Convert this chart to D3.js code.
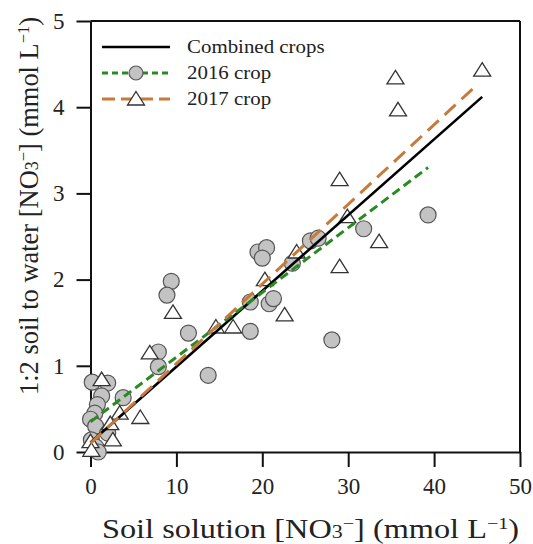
<!DOCTYPE html>
<html><head><meta charset="utf-8">
<script src="https://cdn.jsdelivr.net/npm/d3@7"></script>
<style>
body{margin:0;background:#fff;}
text{font-family:"Liberation Serif","DejaVu Serif",serif;fill:#222;}
</style></head>
<body><svg id="c" width="533" height="544"></svg>
<script>
// 2016 crop (circles): [soil solution, 1:2 soil-water]
const crop2016 = [
  [0.2,0.81],[2.0,0.80],[1.3,0.65],[3.8,0.63],[0.8,0.55],[0.5,0.45],[0.0,0.38],
  [0.6,0.30],[2.0,0.22],[0.1,0.14],[0.6,0.06],[0.9,0.0],
  [7.9,1.16],[7.9,0.99],[9.4,1.98],[8.9,1.82],[11.4,1.38],[13.7,0.89],
  [18.6,1.74],[18.6,1.40],[19.5,2.32],[20.5,2.37],[20.0,2.25],[20.8,1.72],
  [21.3,1.78],[23.5,2.19],[25.6,2.45],[26.5,2.48],[28.1,1.30],[31.8,2.59],[39.3,2.75]
];
// 2017 crop (triangles)
const crop2017 = [
  [1.3,0.84],[3.4,0.45],[5.8,0.40],[2.3,0.33],[0.0,0.12],[0.1,0.02],[2.6,0.14],
  [6.9,1.15],[9.6,1.62],[14.6,1.45],[16.6,1.45],[20.3,2.0],[22.6,1.59],[24.0,2.32],
  [29.0,3.16],[29.9,2.73],[29.0,2.15],[33.6,2.44],[35.5,4.34],[35.8,3.97],[45.6,4.43]
];
// regression lines: [x0,y0],[x1,y1]
const lineCombined = [[0,0.11],[45.6,4.12]];
const line2016 = [[0,0.35],[39.3,3.30]];
const line2017 = [[0,0.10],[45.0,4.26]];
const xTicks = [0,10,20,30,40,50];
const yTicks = [0,1,2,3,4,5];
const legendLabels = ["Combined crops","2016 crop","2017 crop"];

const svg = d3.select("#c");
const x = d3.scaleLinear().domain([0,50]).range([90.5,520]);
const y = d3.scaleLinear().domain([0,5]).range([452,21]);

// frame top & right
svg.append("line").attr("x1",x(0)).attr("x2",x(50)).attr("y1",y(5)).attr("y2",y(5)).attr("stroke","#111").attr("stroke-width",2);
svg.append("line").attr("x1",x(50)).attr("x2",x(50)).attr("y1",y(5)).attr("y2",y(0)).attr("stroke","#111").attr("stroke-width",2);

const gx = svg.append("g").attr("transform",`translate(0,${y(0)})`)
  .call(d3.axisBottom(x).tickValues(xTicks).tickSize(15).tickSizeOuter(0).tickPadding(11).tickFormat(d3.format("d")));
const gy = svg.append("g").attr("transform",`translate(${x(0)},0)`)
  .call(d3.axisLeft(y).tickValues(yTicks).tickSize(14).tickSizeOuter(0).tickPadding(12).tickFormat(d3.format("d")));
[gx,gy].forEach(g=>{
  g.selectAll("path,line").attr("stroke","#111").attr("stroke-width",2);
  g.selectAll("text").style("font-family",'"Liberation Serif",serif').style("font-size","23px").attr("fill","#222");
});

const triPath = "M0,-7.5L8.5,6L-8.5,6Z";

// markers
svg.append("g").selectAll("circle").data(crop2016).join("circle")
  .attr("cx",d=>x(d[0])).attr("cy",d=>y(d[1])).attr("r",8)
  .attr("fill","#c3c3c3").attr("stroke","#555").attr("stroke-width",1.2);
svg.append("g").selectAll("path").data(crop2017).join("path")
  .attr("d",triPath).attr("transform",d=>`translate(${x(d[0])},${y(d[1])})`)
  .attr("fill","#fff").attr("stroke","#333").attr("stroke-width",1.3);

// regression lines
const ln = d3.line().x(d=>x(d[0])).y(d=>y(d[1]));
svg.append("path").datum(lineCombined).attr("d",ln).attr("stroke","#000").attr("stroke-width",2.6).attr("fill","none");
svg.append("path").datum(line2016).attr("d",ln).attr("stroke","#2a8a22").attr("stroke-width",3).attr("stroke-dasharray","9,5").attr("fill","none");
svg.append("path").datum(line2017).attr("d",ln).attr("stroke","#c77a3a").attr("stroke-width",3).attr("stroke-dasharray","15,8").attr("fill","none");

// legend
const lg = svg.append("g");
const rows = [47,73,99];
lg.append("line").attr("x1",102).attr("x2",170).attr("y1",rows[0]).attr("y2",rows[0]).attr("stroke","#000").attr("stroke-width",2.6);
lg.append("line").attr("x1",102).attr("x2",170).attr("y1",rows[1]).attr("y2",rows[1]).attr("stroke","#2a8a22").attr("stroke-width",3).attr("stroke-dasharray","6,4");
lg.append("circle").attr("cx",136).attr("cy",rows[1]).attr("r",7).attr("fill","#c3c3c3").attr("stroke","#555").attr("stroke-width",1.2);
lg.append("line").attr("x1",102).attr("x2",170).attr("y1",rows[2]).attr("y2",rows[2]).attr("stroke","#c77a3a").attr("stroke-width",3).attr("stroke-dasharray","13,6");
lg.append("path").attr("d",triPath).attr("transform",`translate(136,${rows[2]})`).attr("fill","#fff").attr("stroke","#333").attr("stroke-width",1.3);
lg.selectAll("text").data(legendLabels).join("text")
  .attr("x",187).attr("y",(d,i)=>rows[i]+6).style("font-size","19px").text(d=>d)
  .each(function(){ const w=this.getComputedTextLength(); d3.select(this).attr("textLength",w*1.1).attr("lengthAdjust","spacingAndGlyphs"); });

// axis titles
function chem(t, parts){
  parts.forEach(p=>{
    const s = t.append("tspan").text(p[0]);
    if(p[1]==="sub"){ s.style("font-size","0.68em"); }
    if(p[1]==="sup"){ s.style("font-size","0.62em").attr("baseline-shift","super"); }
  });
}
const xt = svg.append("text").attr("x",310.5).attr("y",538).attr("text-anchor","middle").style("font-size","27px")
  .attr("textLength",417).attr("lengthAdjust","spacingAndGlyphs");
chem(xt,[["Soil solution [NO"],["3","sub"],["−","sup"],["] (mmol L"],["−1","sup"],[")"]]);
const yt = svg.append("text").attr("transform","translate(38,206) rotate(-90)").attr("text-anchor","middle").style("font-size","27px")
  .attr("textLength",378).attr("lengthAdjust","spacingAndGlyphs");
chem(yt,[["1:2 soil to water [NO"],["3","sub"],["−","sup"],["] (mmol L"],["−1","sup"],[")"]]);
</script></body></html>
